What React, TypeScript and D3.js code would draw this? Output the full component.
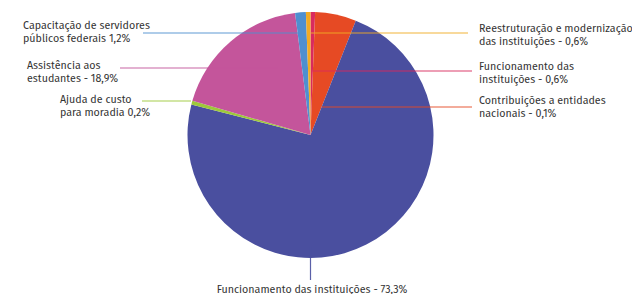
import React from "react";
import * as d3 from "d3";

// slices, clockwise from 12 o'clock (sizes as drawn in the picture)
const categories = [
  "Funcionamento das instituições",
  "Contribuições a entidades nacionais",
  "Funcionamento das instituições",
  "Ajuda de custo para moradia",
  "Assistência aos estudantes",
  "Capacitação de servidores públicos federais",
  "Reestruturação e modernização das instituições",
];
const values = [0.6, 5.4, 73.0, 0.5, 18.5, 1.4, 0.6];
const colors = ["#d92a5e", "#e64a24", "#4a4f9f", "#9dc93a", "#c4559b", "#4f8fd0", "#f2ab24"];

// label text as printed on the chart
const labelLines = [
  ["Funcionamento das", "instituições - 0,6%"],
  ["Contribuições a entidades", "nacionais - 0,1%"],
  ["Funcionamento das instituições - 73,3%"],
  ["Ajuda de custo", "para moradia 0,2%"],
  ["Assistência aos", "estudantes - 18,9%"],
  ["Capacitação de servidores", "públicos federais 1,2%"],
  ["Reestruturação e modernização", "das instituições - 0,6%"],
];

const width = 632;
const height = 294;
const cx = 310.5;
const cy = 135;
const radius = 123;

// annotation layout: text anchor point and leader line
const layout = [
  { tx: 479, ty: 66.5, x1: 313, y1: 71, x2: 472, y2: 71 },
  { tx: 479, ty: 100.5, x1: 322, y1: 107, x2: 472, y2: 107 },
  { tx: 312, ty: 289.5, x1: 310.5, y1: 247, x2: 310.5, y2: 280, anchor: "middle" },
  { tx: 60, ty: 100, x1: 142, y1: 101, x2: 191, y2: 101 },
  { tx: 27, ty: 65.5, x1: 120, y1: 68, x2: 278, y2: 68 },
  { tx: 23, ty: 25.5, x1: 143, y1: 33, x2: 302, y2: 33 },
  { tx: 479, ty: 28.5, x1: 311, y1: 33, x2: 468, y2: 33 },
];

export default function App() {
  const pie = d3.pie<number>().sort(null).value((d) => d).startAngle(0).endAngle(2 * Math.PI);
  const arcs = pie(values);
  const arc = d3.arc<d3.PieArcDatum<number>>().innerRadius(0).outerRadius(radius);

  return (
    <svg
      width={width}
      height={height}
      style={{ position: "absolute", left: 0, top: 0, background: "#fff" }}
      fontFamily="'Fira Sans', 'Noto Sans', sans-serif"
    >
      <g transform={`translate(${cx},${cy})`}>
        {arcs.map((a, i) => (
          <path key={i} d={arc(a) || ""} fill={colors[i]} />
        ))}
      </g>
      {layout.map((l, i) => (
        <line key={"l" + i} x1={l.x1} y1={l.y1} x2={l.x2} y2={l.y2} stroke={colors[i]} strokeWidth={1.2} opacity={0.9} />
      ))}
      {layout.map((l, i) => (
        <text
          key={"t" + i}
          x={l.tx}
          y={l.ty}
          fontSize={10.7}
          fill="#333"
          textAnchor={l.anchor || "start"}
          dominantBaseline="middle"
        >
          {labelLines[i].map((s, j) => (
            <tspan key={j} x={l.tx} dy={j === 0 ? 0 : 13.4}>
              {s}
            </tspan>
          ))}
        </text>
      ))}
    </svg>
  );
}
